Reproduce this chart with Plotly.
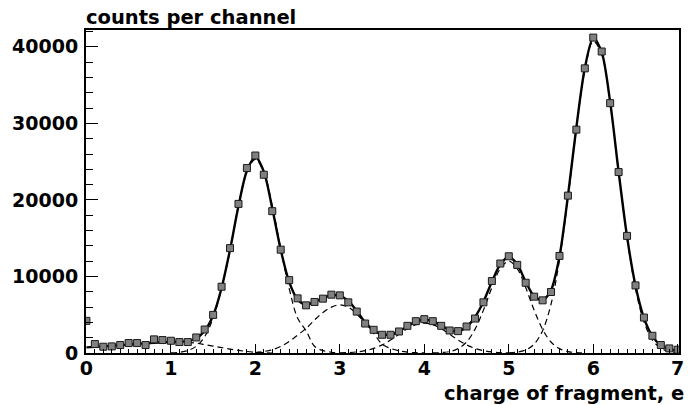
import plotly.graph_objects as go

# --- data -------------------------------------------------------------------
charge = [round(0.1 * i, 1) for i in range(71)]  # bin centres 0.0 ... 7.0

counts = [4200, 1170, 820, 860, 1040, 1300, 1300, 1040, 1780, 1690,
          1600, 1430, 1430, 2030, 3070, 4980, 8660, 13700, 19480, 24160,
          25800, 23290, 18530, 13500, 9520, 7140, 6230, 6670, 7100, 7620,
          7530, 6620, 5410, 3850, 3030, 2380, 2380, 2810, 3550, 4160,
          4420, 4160, 3550, 2940, 2860, 3460, 4500, 6620, 9400, 11690,
          12640, 11510, 9180, 7360, 6880, 7970, 12680, 20560, 29180, 37190,
          41210, 39390, 32640, 23640, 15300, 8830, 4630, 2250, 1040, 600,
          430]

fit_total = [740, 800, 870, 940, 1020, 1100, 1180, 1260, 1340, 1400,
             1440, 1470, 1550, 1900, 2900, 4900, 8500, 13500, 19200, 23800,
             25600, 23700, 18900, 13500, 9300, 7000, 6300, 6650, 7200, 7550,
             7450, 6800, 5500, 4000, 2950, 2450, 2400, 2800, 3500, 4100,
             4350, 4150, 3600, 3000, 2850, 3400, 4700, 6700, 9300, 11600,
             12550, 11600, 9300, 7400, 6900, 8200, 12600, 20500, 29500, 37200,
             41200, 39300, 32800, 23700, 15200, 8800, 4600, 2200, 1000, 500,
             300]

# individual fit components (dashed)
comp1_x = [1.2, 1.3, 1.4, 1.5, 1.6, 1.7, 1.8, 1.9, 2.0, 2.1, 2.2]
comp1_y = [1400, 1300, 1100, 900, 700, 500, 350, 200, 100, 40, 0]

comp2_x = [1.0, 1.1, 1.2, 1.3, 1.4, 1.5, 1.6, 1.7, 1.8, 1.9, 2.0,
           2.1, 2.2, 2.3, 2.4, 2.5, 2.6, 2.7, 2.8, 2.9, 3.0]
comp2_y = [26, 97, 314, 880, 2140, 4560, 8450, 13400, 19240, 23620, 25300,
           23620, 19240, 13650, 8450, 4560, 2900, 880, 314, 97, 26]

comp3_x = [2.0, 2.1, 2.2, 2.3, 2.4, 2.5, 2.6, 2.7, 2.8, 2.9, 3.0,
           3.1, 3.2, 3.3, 3.4, 3.5, 3.6, 3.7, 3.8, 3.9, 4.0]
comp3_y = [60, 200, 420, 850, 1500, 2350, 3200, 4300, 5300, 6000, 6300,
           6000, 5100, 3900, 2600, 1150, 600, 277, 114, 42, 14]

comp4_x = [3.0, 3.1, 3.2, 3.3, 3.4, 3.5, 3.6, 3.7, 3.8, 3.9, 4.0,
           4.1, 4.2, 4.3, 4.4, 4.5, 4.6, 4.7, 4.8, 4.9, 5.0]
comp4_y = [21, 58, 140, 305, 600, 1060, 1700, 2440, 3170, 3700, 3900,
           3700, 3170, 2440, 1700, 1060, 600, 305, 140, 58, 21]

comp5_x = [4.1, 4.2, 4.3, 4.4, 4.5, 4.6, 4.7, 4.8, 4.9, 5.0,
           5.1, 5.2, 5.3, 5.4, 5.5, 5.6, 5.7, 5.8, 5.9]
comp5_y = [12, 53, 190, 570, 1440, 3090, 5600, 8550, 11030, 12000,
           11030, 8550, 5600, 3090, 1440, 570, 190, 53, 12]

comp6_x = [5.0, 5.1, 5.2, 5.3, 5.4, 5.5, 5.6, 5.7, 5.8, 5.9, 6.0,
           6.1, 6.2, 6.3, 6.4, 6.5, 6.6, 6.7, 6.8, 6.9, 7.0]
comp6_y = [35, 124, 405, 1160, 2920, 6370, 12150, 20200, 29300, 36900, 40700,
           39000, 32600, 23800, 15100, 8400, 4060, 1710, 630, 200, 56]

x_tick_vals = [0, 1, 2, 3, 4, 5, 6, 7]
y_tick_vals = [0, 10000, 20000, 30000, 40000]
y_tick_text = ["0", "10000", "20000", "30000", "40000"]

x_title = "charge of fragment, e"
y_title = "counts per channel"

# --- figure ------------------------------------------------------------------
FONT = dict(family="DejaVu Sans", size=19, color="black", weight=700)
TITLE_FONT = dict(family="DejaVu Sans", size=19.5, color="black", weight=700)

fig = go.Figure()

for cx, cy in [(comp1_x, comp1_y), (comp2_x, comp2_y), (comp3_x, comp3_y),
               (comp4_x, comp4_y), (comp5_x, comp5_y), (comp6_x, comp6_y)]:
    fig.add_trace(go.Scatter(
        x=cx, y=cy, mode="lines", line_shape="spline",
        line=dict(color="black", width=1.2, dash="6px,4px"),
        showlegend=False, hoverinfo="skip"))

fig.add_trace(go.Scatter(
    x=charge, y=fit_total, mode="lines", line_shape="spline",
    line=dict(color="black", width=2.4, smoothing=0.8), showlegend=False))

fig.add_trace(go.Scatter(
    x=charge, y=counts, mode="markers",
    marker=dict(symbol="square", size=7, color="#808080",
                line=dict(color="#1a1a1a", width=1)),
    showlegend=False))

fig.update_layout(
    width=697, height=405,
    margin=dict(l=86, r=18, t=30, b=52),
    paper_bgcolor="white", plot_bgcolor="white",
    font=FONT,
    xaxis=dict(
        range=[-0.005, 7.015], tickvals=x_tick_vals,
        ticks="inside", ticklen=9, tickwidth=1, tickcolor="black",
        minor=dict(dtick=0.1, ticks="inside", ticklen=4, tickcolor="black"),
        showgrid=False, zeroline=False,
        showline=True, linecolor="black", linewidth=2, mirror=True,
        tickfont=FONT, ticklabelstandoff=-3),
    yaxis=dict(
        range=[0, 42200], tickvals=y_tick_vals, ticktext=y_tick_text,
        ticks="inside", ticklen=12, tickwidth=1, tickcolor="black",
        minor=dict(dtick=2000, ticks="inside", ticklen=7, tickcolor="black"),
        showgrid=False, zeroline=False,
        showline=True, linecolor="black", linewidth=2, mirror=True,
        tickfont=FONT, ticklabelstandoff=2),
    annotations=[
        dict(text=y_title, xref="paper", yref="paper", x=-0.003, y=1.04,
             xanchor="left", yanchor="middle", showarrow=False,
             font=TITLE_FONT),
        dict(text=x_title, xref="paper", yref="paper", x=1.012, y=-0.124,
             xanchor="right", yanchor="middle", showarrow=False,
             font=TITLE_FONT),
    ],
)

fig.write_html("out.html")
